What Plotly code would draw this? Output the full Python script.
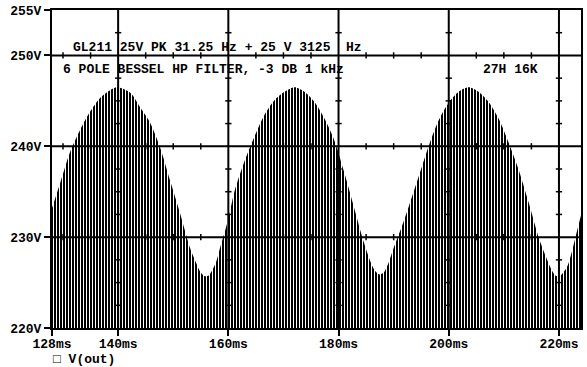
import plotly.graph_objects as go

# Envelope of V(out) (top of the carrier lines)
time_ms = [128.0, 129.5, 131.3, 133.1, 134.9, 136.7, 138.6, 139.8, 142.2, 144.0,
           145.8, 147.6, 149.4, 151.2, 153.0, 154.2, 154.9, 155.7, 156.5, 157.1,
           157.8, 158.4, 160.0,
           161.1, 162.9, 164.7, 166.5, 168.4, 170.2, 172.0, 173.8, 175.6, 177.4,
           179.2, 181.0, 182.8, 184.6, 185.8, 186.6, 187.4, 188.2, 188.9, 190.0,
           191.5, 192.7,
           194.5, 196.4, 198.2, 200.0, 201.8, 203.6, 205.4, 207.2, 209.0, 210.8,
           212.7, 214.5, 216.3, 217.6, 218.5, 219.3, 220.1, 220.8, 221.6, 222.3,
           223.0, 224.0]
v_out = [233.2, 236.0, 239.4, 241.8, 243.8, 245.3, 246.2, 246.5, 245.9, 244.3,
         242.6, 239.9, 236.3, 232.7, 228.9, 227.1, 226.2, 225.7, 225.8, 226.4,
         227.3, 228.6, 232.0,
         235.0, 238.3, 241.0, 243.4, 245.1, 246.0, 246.5, 246.0, 244.9, 243.1,
         240.7, 237.2, 233.3, 229.4, 227.3, 226.3, 225.9, 226.1, 226.9, 228.8,
         231.2, 233.3,
         236.6, 240.1, 242.9, 244.8, 246.0, 246.5, 246.0, 244.9, 243.1, 240.5,
         237.4, 233.8, 230.0, 227.9, 226.6, 225.8, 225.7, 226.1, 226.9, 228.3,
         230.0, 232.4]

x_ticks = [128, 140, 160, 180, 200, 220]
x_labels = ["128ms", "140ms", "160ms", "180ms", "200ms", "220ms"]
y_ticks = [220, 230, 240, 250, 255]
y_labels = ["220V", "230V", "240V", "250V", "255V"]

title1 = "GL211 25V PK 31.25 Hz + 25 V 3125\u00a0\u00a0Hz"
title2 = "6 POLE BESSEL HP FILTER, -3 DB 1 kHz"
note = "27H 16K"
legend_text = "\u25a1 V(out)"

FONT = dict(family="Liberation Mono", size=13, color="black", weight="bold")

fig = go.Figure()

# dense carrier: white 1px gaps on black, clipped by the envelope
fig.add_trace(go.Scatter(
    x=time_ms, y=v_out, mode="lines",
    line=dict(width=0, color="black", shape="spline", smoothing=0.8),
    fill="tozeroy", fillcolor="black",
    fillpattern=dict(shape="|", size=3, solidity=0.34, fgcolor="white",
                     bgcolor="black", fgopacity=1),
    showlegend=False, hoverinfo="skip"))

# grid lines drawn over the waveform
vgrid = [t for t in x_ticks if t > 128]
hgrid = [v for v in y_ticks if 220 < v < 255]
for t in vgrid:
    fig.add_shape(type="line", x0=t, x1=t, y0=0, y1=1, xref="x", yref="paper",
                  line=dict(color="black", width=2), layer="above")
for v in hgrid:
    fig.add_shape(type="line", y0=v, y1=v, x0=0, x1=1, yref="y", xref="paper",
                  line=dict(color="black", width=2), layer="above")

# cross ticks along grid lines
minor_v = [220 + 2.5 * k for k in range(1, 14) if (220 + 2.5 * k) not in hgrid]
cx, cy = [], []
for t in vgrid:
    for v in minor_v:
        cx.append(t); cy.append(v)
fig.add_trace(go.Scatter(x=cx, y=cy, mode="markers",
                         marker=dict(symbol="line-ew", size=4.5,
                                     line=dict(width=1.5, color="black")),
                         showlegend=False, hoverinfo="skip"))
minor_t = [t for t in range(130, 224, 5) if t not in vgrid]
dx, dy = [], []
for v in hgrid:
    for t in minor_t:
        dx.append(t); dy.append(v)
fig.add_trace(go.Scatter(x=dx, y=dy, mode="markers",
                         marker=dict(symbol="line-ns", size=4.5,
                                     line=dict(width=1.5, color="black")),
                         showlegend=False, hoverinfo="skip"))

W, H = 587, 367
L, R, T, B = 52, 4, 10, 39
pw, ph = W - L - R, H - T - B


def px(x):
    return (x - L) / pw


def py(y):
    return (H - B - y) / ph


annos = [
    (title1, 72, 47.5),
    (title2, 62, 70),
    (note, 484, 70),
    (legend_text, 52, 359),
]
for text, x0, y0 in annos:
    fig.add_annotation(text=text, x=px(x0), y=py(y0), xref="paper", yref="paper",
                       xanchor="left", yanchor="middle", showarrow=False,
                       font=FONT, borderpad=0)

fig.update_xaxes(range=[128, 224], tickvals=x_ticks, ticktext=x_labels,
                 ticks="outside", ticklen=6, tickwidth=2, tickcolor="black",
                 ticklabelstandoff=-4,
                 showgrid=False,
                 showline=True, mirror=True, linecolor="black", linewidth=2,
                 zeroline=False, tickfont=FONT)
fig.update_yaxes(range=[220, 255], tickvals=y_ticks, ticktext=y_labels,
                 ticks="outside", ticklen=6, tickwidth=2, tickcolor="black",
                 showgrid=False,
                 showline=True, mirror=True, linecolor="black", linewidth=2,
                 zeroline=False, tickfont=FONT)

fig.update_layout(width=W, height=H, margin=dict(l=L, r=R, t=T, b=B),
                  paper_bgcolor="white", plot_bgcolor="white",
                  showlegend=False)

fig.write_html("out.html")
